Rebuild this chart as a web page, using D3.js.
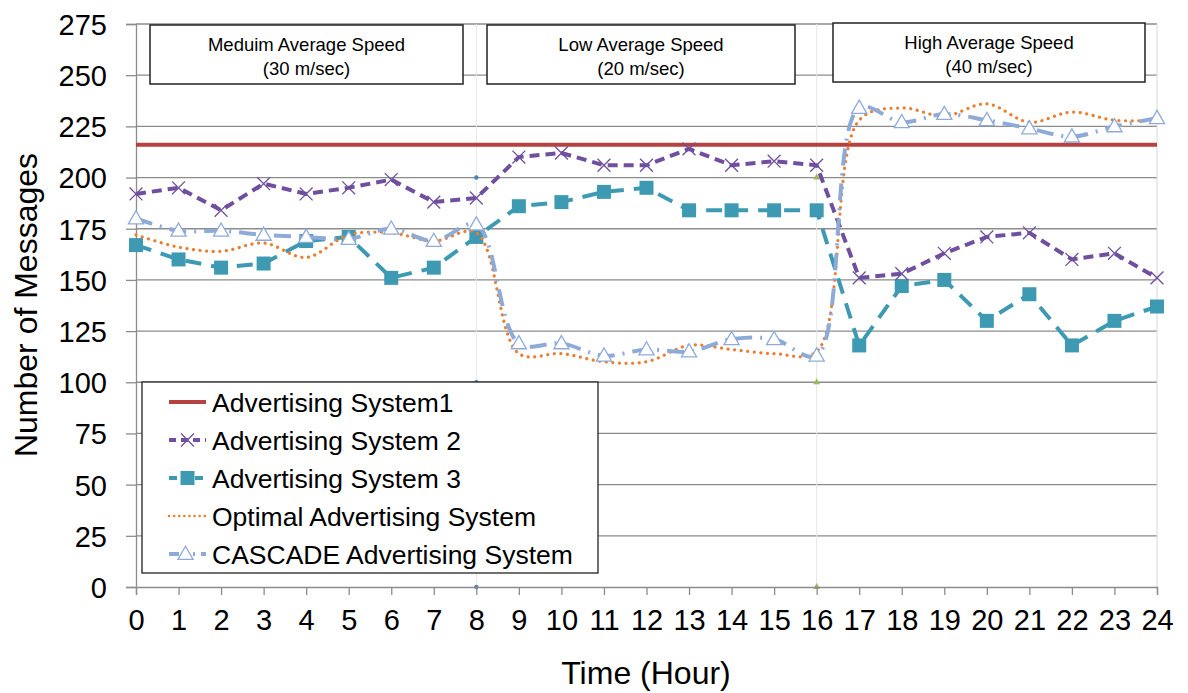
<!DOCTYPE html>
<html>
<head>
<meta charset="utf-8">
<script src="https://cdn.jsdelivr.net/npm/d3@7"></script>
<style>
  html, body { margin: 0; padding: 0; background: #fff; }
  svg { display: block; }
</style>
</head>
<body>
<svg id="chart" width="1188" height="693"></svg>
<script>
// Hours of the day
const hours = d3.range(0, 25);
const yTicks = d3.range(0, 276, 25);

// Messages per hour for each advertising system
const system1 = hours.map(() => 216);
const system2 = [192, 195, 184, 197, 192, 195, 199, 188, 190, 210, 212, 206, 206, 214, 206, 208, 206, 151, 153, 163, 171, 173, 160, 163, 151];
const system3 = [167, 160, 156, 158, 169, 171, 151, 156, 171, 186, 188, 193, 195, 184, 184, 184, 184, 118, 147, 150, 130, 143, 118, 130, 137];
const optimal = [172, 166, 164, 168, 161, 172, 173, 169, 173, 114, 114, 110, 110, 118, 116, 114, 115, 228, 234, 230, 236, 227, 232, 228, 228];
const cascade = [180, 174, 174, 172, 171, 170, 175, 169, 177, 119, 119, 113, 116, 115, 121, 121, 113, 234, 227, 231, 228, 224, 220, 225, 229];

// Speed phases
const phaseNames = ["Meduim Average Speed", "Low Average Speed", "High Average Speed"];
const phaseSpeeds = ["(30 m/sec)", "(20 m/sec)", "(40 m/sec)"];
const phaseBounds = [8, 16];
const boundMarks = [0, 100, 200];

const legendNames = ["Advertising System1", "Advertising System 2", "Advertising System 3", "Optimal Advertising System", "CASCADE Advertising System"];

const svg = d3.select("#chart");
svg.append("rect").attr("width", 1188).attr("height", 693).attr("fill", "#fff");

const x = d3.scaleLinear().domain([0, 24]).range([136, 1157]);
const y = d3.scaleLinear().domain([0, 275]).range([587, 24]);

const axisFont = "'Liberation Sans', Arial, sans-serif";

// Horizontal gridlines
svg.append("g").selectAll("line").data(yTicks.filter(d => d > 0)).join("line")
  .attr("x1", x(0)).attr("x2", x(24))
  .attr("y1", d => y(d)).attr("y2", d => y(d))
  .attr("stroke", "#8c8c8c").attr("stroke-width", 1.3);

// Right plot edge
svg.append("line").attr("x1", x(24)).attr("x2", x(24)).attr("y1", y(275)).attr("y2", y(0))
  .attr("stroke", "#d9d9d9").attr("stroke-width", 1);

// Phase boundaries
const bounds = svg.append("g");
bounds.selectAll("line").data(phaseBounds).join("line")
  .attr("x1", d => x(d)).attr("x2", d => x(d))
  .attr("y1", y(275)).attr("y2", y(0))
  .attr("stroke", "#e6e6e6").attr("stroke-width", 1);

// Axes
const yAxis = d3.axisLeft(y).tickValues(yTicks).tickSize(10).tickPadding(19);
const gy = svg.append("g").attr("transform", `translate(${x(0)},0)`).call(yAxis);
gy.select(".domain").attr("stroke", "#8c8c8c").attr("stroke-width", 1.3);
gy.selectAll(".tick line").attr("stroke", "#8c8c8c").attr("stroke-width", 1.3);
gy.selectAll("text").attr("font-family", axisFont).attr("font-size", 29).attr("fill", "#000").attr("dy", "0.36em");

const xAxis = d3.axisBottom(x).tickValues(hours).tickSize(8).tickPadding(14).tickFormat(d3.format("d"));
const gx = svg.append("g").attr("transform", `translate(0,${y(0)})`).call(xAxis);
gx.select(".domain").attr("stroke", "#8c8c8c").attr("stroke-width", 1.3);
gx.selectAll(".tick line").attr("stroke", "#8c8c8c").attr("stroke-width", 1.3);
gx.selectAll("text").attr("font-family", axisFont).attr("font-size", 29).attr("fill", "#000").attr("dy", "0.74em");

// Axis titles
svg.append("text").attr("x", 646).attr("y", 684).attr("text-anchor", "middle")
  .attr("font-family", axisFont).attr("font-size", 32).text("Time (Hour)");
svg.append("text").attr("transform", "translate(37,305) rotate(-90)").attr("text-anchor", "middle")
  .attr("font-family", axisFont).attr("font-size", 32).text("Number of Messages");

// Boundary markers
bounds.selectAll("circle").data(boundMarks).join("circle")
  .attr("cx", x(phaseBounds[0])).attr("cy", d => y(d)).attr("r", 2.2).attr("fill", "#4f81bd");
bounds.selectAll("path").data(boundMarks).join("path")
  .attr("d", d3.symbol(d3.symbolTriangle, 20))
  .attr("transform", d => `translate(${x(phaseBounds[1])},${y(d)})`).attr("fill", "#9bbb59");

const colors = {
  s1: "#b7413e",
  s2: "#6f4f9e",
  s3: "#3d9ab2",
  opt: "#e97f30",
  cas: "#8eaad9"
};

const straight = d3.line().x((d, i) => x(hours[i])).y(d => y(d));
const smooth = d3.line().x((d, i) => x(hours[i])).y(d => y(d)).curve(d3.curveCatmullRom.alpha(0.5));

const series = svg.append("g");

// System 1
series.append("path").attr("d", straight(system1)).attr("fill", "none")
  .attr("stroke", colors.s1).attr("stroke-width", 4);

// System 3
series.append("path").attr("d", straight(system3)).attr("fill", "none")
  .attr("stroke", colors.s3).attr("stroke-width", 4).attr("stroke-dasharray", "16,10");
series.append("g").selectAll("rect").data(system3).join("rect")
  .attr("x", (d, i) => x(hours[i]) - 7).attr("y", d => y(d) - 7)
  .attr("width", 14).attr("height", 14).attr("fill", colors.s3);

// System 2
series.append("path").attr("d", straight(system2)).attr("fill", "none")
  .attr("stroke", colors.s2).attr("stroke-width", 4).attr("stroke-dasharray", "10,6");
const cross = d3.symbol(d3.symbolX, 110);
series.append("g").selectAll("path").data(system2).join("path")
  .attr("d", cross).attr("transform", (d, i) => `translate(${x(hours[i])},${y(d)})`)
  .attr("fill", "none").attr("stroke", colors.s2).attr("stroke-width", 1.3);

// Optimal
series.append("path").attr("d", smooth(optimal)).attr("fill", "none")
  .attr("stroke", colors.opt).attr("stroke-width", 3.2)
  .attr("stroke-linecap", "round").attr("stroke-dasharray", "0.1,6.5");

// CASCADE
series.append("path").attr("d", smooth(cascade)).attr("fill", "none")
  .attr("stroke", colors.cas).attr("stroke-width", 4)
  .attr("stroke-dasharray", "17,8,2,8");
const tri = d3.symbol(d3.symbolTriangle, 100);
series.append("g").selectAll("path").data(cascade).join("path")
  .attr("d", tri).attr("transform", (d, i) => `translate(${x(hours[i])},${y(d) + 1})`)
  .attr("fill", "#fff").attr("stroke", colors.cas).attr("stroke-width", 1.3);

// Phase label boxes
const boxFont = "'Liberation Sans', Arial, sans-serif";
const boxes = [
  { x0: 150, x1: 463, y0: 25, y1: 84 },
  { x0: 487, x1: 795, y0: 25, y1: 84 },
  { x0: 833, x1: 1145, y0: 23, y1: 82 }
];
const bg = svg.append("g").selectAll("g").data(boxes).join("g");
bg.append("rect").attr("x", d => d.x0).attr("y", d => d.y0)
  .attr("width", d => d.x1 - d.x0).attr("height", d => d.y1 - d.y0)
  .attr("fill", "#fff").attr("stroke", "#222").attr("stroke-width", 1.5);
bg.append("text").attr("x", d => (d.x0 + d.x1) / 2).attr("y", d => d.y0 + 26)
  .attr("text-anchor", "middle").attr("font-family", boxFont).attr("font-size", 18.5)
  .text((d, i) => phaseNames[i]);
bg.append("text").attr("x", d => (d.x0 + d.x1) / 2).attr("y", d => d.y0 + 50)
  .attr("text-anchor", "middle").attr("font-family", boxFont).attr("font-size", 18.5)
  .text((d, i) => phaseSpeeds[i]);

// Legend
const legend = svg.append("g");
legend.append("rect").attr("x", 142).attr("y", 382).attr("width", 456).attr("height", 191)
  .attr("fill", "#fff").attr("stroke", "#222").attr("stroke-width", 1.3);
const rowY = i => 402 + i * 38;
const lx0 = 169, lx1 = 206;
legendNames.forEach((name, i) => {
  legend.append("text").attr("x", 212).attr("y", rowY(i) + 10)
    .attr("font-family", axisFont).attr("font-size", 26.5).text(name);
});
legend.append("line").attr("x1", lx0).attr("x2", lx1).attr("y1", rowY(0)).attr("y2", rowY(0))
  .attr("stroke", colors.s1).attr("stroke-width", 4);
legend.append("line").attr("x1", lx0).attr("x2", lx1).attr("y1", rowY(1)).attr("y2", rowY(1))
  .attr("stroke", colors.s2).attr("stroke-width", 4).attr("stroke-dasharray", "7,5");
legend.append("path").attr("d", cross).attr("transform", `translate(${(lx0 + lx1) / 2},${rowY(1)})`)
  .attr("fill", "none").attr("stroke", colors.s2).attr("stroke-width", 1.3);
legend.append("line").attr("x1", lx0).attr("x2", lx1).attr("y1", rowY(2)).attr("y2", rowY(2))
  .attr("stroke", colors.s3).attr("stroke-width", 4).attr("stroke-dasharray", "8,5");
legend.append("rect").attr("x", (lx0 + lx1) / 2 - 7).attr("y", rowY(2) - 7)
  .attr("width", 14).attr("height", 14).attr("fill", colors.s3);
legend.append("line").attr("x1", lx0).attr("x2", lx1).attr("y1", rowY(3)).attr("y2", rowY(3))
  .attr("stroke", colors.opt).attr("stroke-width", 2.5).attr("stroke-linecap", "round")
  .attr("stroke-dasharray", "0.1,5");
legend.append("line").attr("x1", lx0).attr("x2", lx1).attr("y1", rowY(4)).attr("y2", rowY(4))
  .attr("stroke", colors.cas).attr("stroke-width", 4).attr("stroke-dasharray", "10,14,2,6");
legend.append("path").attr("d", tri).attr("transform", `translate(${(lx0 + lx1) / 2 - 2},${rowY(4) + 1})`)
  .attr("fill", "#fff").attr("stroke", colors.cas).attr("stroke-width", 1.3);
</script>
</body>
</html>
